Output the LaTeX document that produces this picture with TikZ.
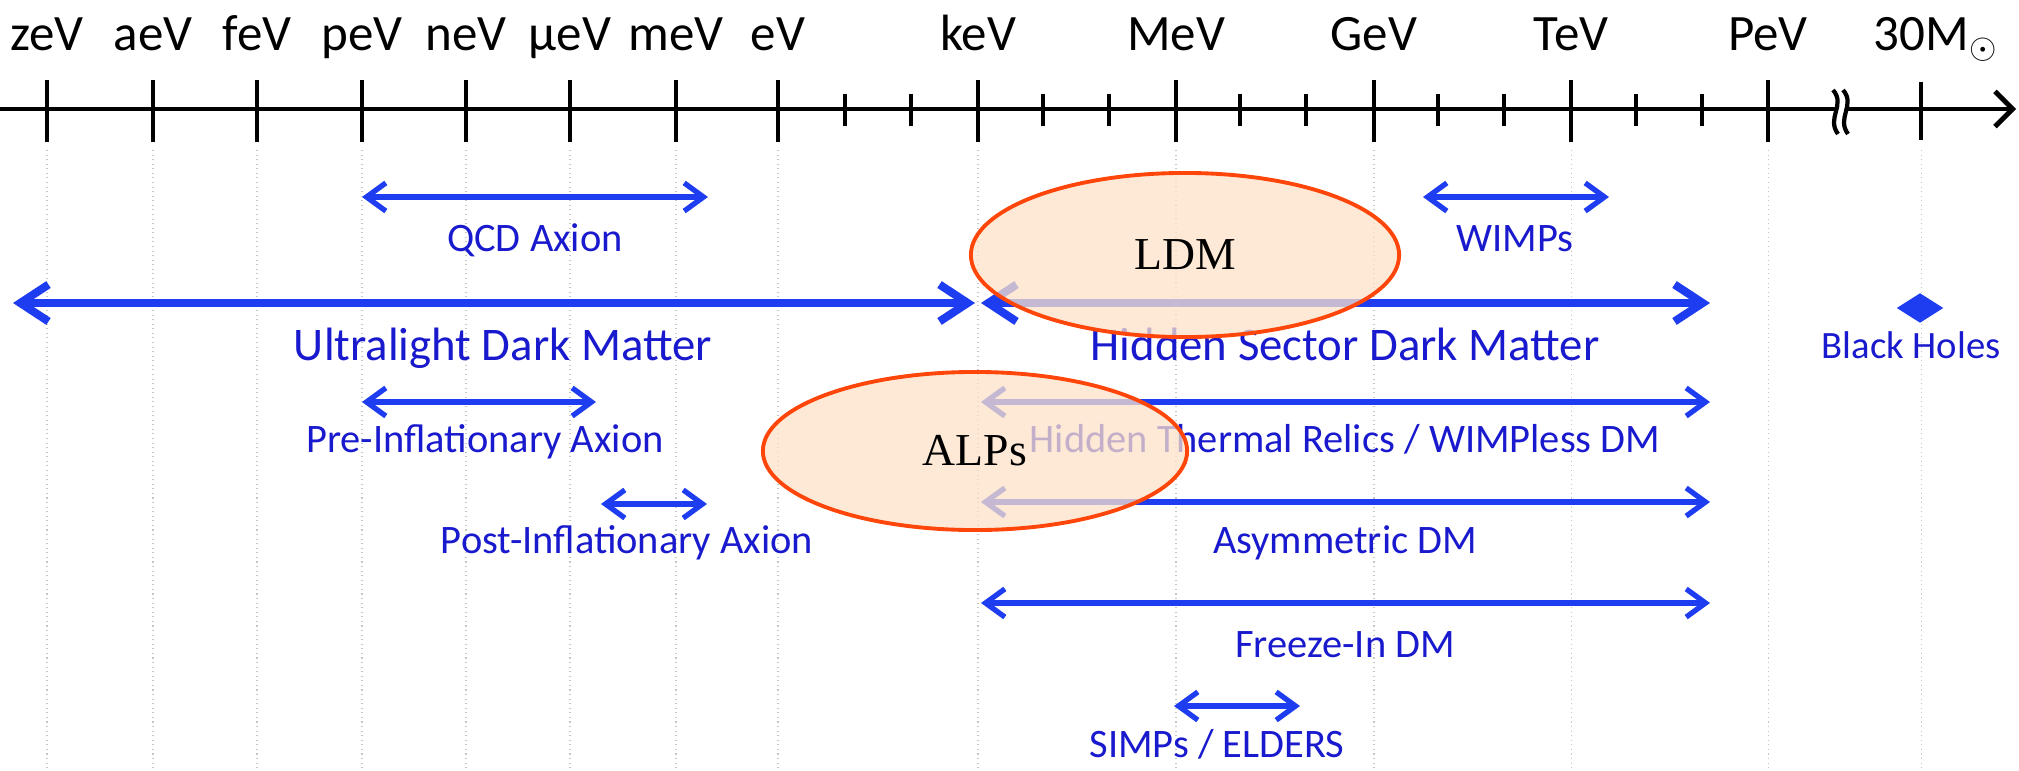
\documentclass[tikz,border=0pt]{standalone}
\usepackage{fontspec}
\setmainfont{Carlito}
\newfontfamily\serifface{Liberation Serif}
\usetikzlibrary{arrows.meta,shapes.geometric,positioning}
\definecolor{rangeblue}{RGB}{30,60,240}
\definecolor{labelblue}{RGB}{25,25,205}
\definecolor{peach}{RGB}{252,226,200}
\definecolor{rimred}{RGB}{255,70,10}
\tikzset{
  axisline/.style = {line width=1.4pt, -{Straight Barb[length=5pt,width=10pt]}},
  tickmark/.style = {line width=1.3pt},
  gridline/.style = {densely dotted, gray!45, line width=0.3pt},
  unit/.style     = {font=\fontsize{14.5}{16}\selectfont, inner sep=0pt},
  span/.style     = {{Straight Barb[length=5.5pt,width=8pt]}-{Straight Barb[length=5.5pt,width=8pt]},
                     line width=1.5pt, rangeblue},
  bigspan/.style  = {{Straight Barb[length=8pt,width=10.5pt]}-{Straight Barb[length=8pt,width=10.5pt]},
                     line width=2.3pt, rangeblue},
  rlabel/.style   = {font=\fontsize{11.5}{13}\selectfont, text=labelblue, inner sep=0pt},
  blabel/.style   = {font=\fontsize{13.3}{15}\selectfont, text=labelblue, inner sep=0pt},
  blob/.style     = {ellipse, draw=rimred, line width=1.1pt, fill=peach, fill opacity=0.75,
                     text opacity=1, inner sep=0pt, font=\serifface\fontsize{13}{15}\selectfont},
}

\begin{document}
\begin{tikzpicture}[x=0.01cm, y=-0.01cm]
\useasboundingbox (0,0) rectangle (2019,770);

%% ── Grid and major ticks ──────────────────────────────────────────────────
\foreach \x/\n/\t in {47/zev/zeV, 153/aev/aeV, 257/fev/feV, 362/pev/peV,
                      466/nev/neV, 570/uev/μeV, 676/mev/meV, 778/ev/eV,
                      978/kev/keV, 1176/Mev/MeV, 1374/Gev/GeV, 1571/Tev/TeV,
                      1768/Pev/PeV}{
  \draw[gridline] (\x,150) -- (\x,770);
  \draw[tickmark] (\x,80) -- (\x,142);
  \node[unit, anchor=base] (lbl-\n) at (\x,51) {\t};
}
\draw[gridline] (1921,150) -- (1921,770);
\draw[tickmark] (1921,82) -- (1921,140);
\node[unit, anchor=base] (lbl-sun) at (1936,51) {30M$_{\odot}$};

%% ── Minor ticks ───────────────────────────────────────────────────────────
\foreach \x in {845,911,1043,1109,1240,1306,1438,1504,1636,1702}
  \draw[tickmark] (\x,94) -- (\x,126);

%% ── Axis ──────────────────────────────────────────────────────────────────
\coordinate (axL) at (0,109);
\coordinate (axR) at (2016,109);
\draw[axisline] (axL) -- (axR);

%% break mark
\fill[white] (1833,90) .. controls (1846,105) and (1826,118) .. (1838,134)
  -- (1848,134) .. controls (1836,118) and (1856,105) .. (1843,90) -- cycle;
\draw[line width=1.2pt] (1833,90) .. controls (1846,105) and (1826,118) .. (1838,134);
\draw[line width=1.2pt] (1843,90) .. controls (1856,105) and (1836,118) .. (1848,134);

%% ── Ranges: coordinates ───────────────────────────────────────────────────
\coordinate (qcdL)  at (362,197);  \coordinate (qcdR)  at (708,197);
\coordinate (wimpL) at (1423,197); \coordinate (wimpR) at (1609,197);
\coordinate (ulL)   at (13,303);   \coordinate (ulR)   at (975,303);
\coordinate (hsL)   at (981,303);  \coordinate (hsR)   at (1710,303);
\coordinate (preL)  at (362,402);  \coordinate (preR)  at (596,402);
\coordinate (htL)   at (981,402);  \coordinate (htR)   at (1710,402);
\coordinate (postL) at (601,504);  \coordinate (postR) at (707,504);
\coordinate (asyL)  at (981,502);  \coordinate (asyR)  at (1710,502);
\coordinate (fiL)   at (981,603);  \coordinate (fiR)   at (1710,603);
\coordinate (simpL) at (1174,706); \coordinate (simpR) at (1300,706);

%% ── Ranges: arrows ────────────────────────────────────────────────────────
\draw[span]    (qcdL)  -- (qcdR);
\draw[span]    (wimpL) -- (wimpR);
\draw[bigspan] (ulL)   -- (ulR);
\draw[bigspan] (hsL)   -- (hsR);
\draw[span]    (preL)  -- (preR);
\draw[span]    (htL)   -- (htR);
\draw[span]    (postL) -- (postR);
\draw[span]    (asyL)  -- (asyR);
\draw[span]    (fiL)   -- (fiR);
\draw[span]    (simpL) -- (simpR);

%% ── Ranges: labels ────────────────────────────────────────────────────────
\node[rlabel, anchor=base] (qcd)  at (535,251)  {QCD Axion};
\node[rlabel, anchor=base] (wimp) at (1515,251) {WIMPs};
\node[blabel, anchor=base] (ul)   at (503,360)  {Ultralight Dark Matter};
\node[blabel, anchor=base] (hs)   at (1345,360) {Hidden Sector Dark Matter};
\node[rlabel, anchor=base] (pre)  at (485,452)  {Pre-Inflationary Axion};
\node[rlabel, anchor=base] (ht)   at (1345,452) {Hidden Thermal Relics / WIMPless DM};
\node[rlabel, anchor=base] (post) at (627,553)  {Post-Inflationary Axion};
\node[rlabel, anchor=base] (asy)  at (1345,553) {Asymmetric DM};
\node[rlabel, anchor=base] (fi)   at (1345,657) {Freeze-In DM};
\node[rlabel, anchor=base] (simp) at (1217,757) {SIMPs / ELDERS};

%% ── Black holes ───────────────────────────────────────────────────────────
\node[diamond, fill=rangeblue, aspect=1.6, minimum width=0.47cm,
      minimum height=0.30cm, inner sep=0pt] (bhmark) at (1920,308) {};
\node[rlabel, anchor=base, font=\fontsize{11}{13}\selectfont] (bh) at (1911,358) {Black Holes};

%% ── Highlight ellipses ────────────────────────────────────────────────────
\node[blob, minimum width=4.28cm, minimum height=1.64cm] (ldm)  at (1185,255) {LDM};
\node[blob, minimum width=4.24cm, minimum height=1.58cm] (alps) at (975,451)  {ALPs};

\end{tikzpicture}
\end{document}
